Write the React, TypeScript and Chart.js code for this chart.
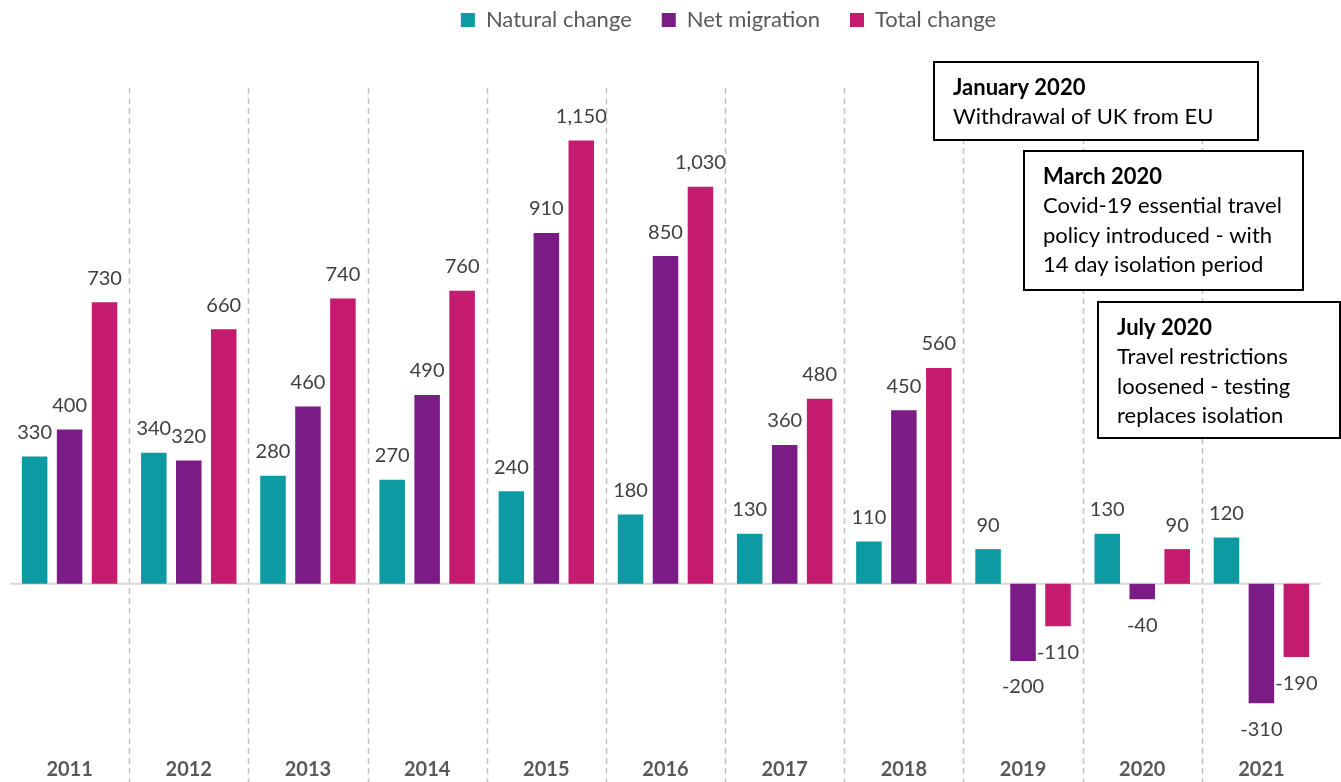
import React, { useEffect, useRef } from "react";
import { Chart, registerables } from "chart.js";

Chart.register(...registerables);

const years = ["2011", "2012", "2013", "2014", "2015", "2016", "2017", "2018", "2019", "2020", "2021"];
const naturalChange = [330, 340, 280, 270, 240, 180, 130, 110, 90, 130, 120];
const netMigration = [400, 320, 460, 490, 910, 850, 360, 450, -200, -40, -310];
const totalChange = [730, 660, 740, 760, 1150, 1030, 480, 560, -110, 90, -190];

const seriesNames = ["Natural change", "Net migration", "Total change"];
const seriesColors = ["#0E9AA2", "#7B1C86", "#C41B6E"];

const annotations = [
  { title: "January 2020", lines: ["Withdrawal of UK from EU"], box: [934, 62, 1258, 140] },
  {
    title: "March 2020",
    lines: ["Covid-19 essential travel", "policy introduced - with", "14 day isolation period"],
    box: [1024, 151, 1303, 290],
  },
  {
    title: "July 2020",
    lines: ["Travel restrictions", "loosened - testing", "replaces isolation"],
    box: [1098, 302, 1340, 438],
  },
];

const FONT = "Lato, 'Open Sans', sans-serif";

const fmt = (v: number) => v.toLocaleString("en-GB");

const customPlugin = {
  id: "custom",
  beforeInit(chart: any) {
    const lg = chart.legend;
    if (lg && !lg.__patched) {
      const orig = lg.fit;
      lg.fit = function () {
        orig.call(this);
        this.height += 26;
      };
      lg.__patched = true;
    }
  },
  afterLayout(chart: any) {
    const lg = chart.legend;
    if (lg) {
      lg.top -= 21;
      lg.bottom -= 21;
      lg.left += 63;
      lg.right += 63;
    }
  },
  beforeDatasetsDraw(chart: any) {
    const { ctx, chartArea } = chart;
    const xs = chart.scales.x;
    const ys = chart.scales.y;
    ctx.save();
    ctx.strokeStyle = "#c4c4c4";
    ctx.lineWidth = 1.5;
    ctx.setLineDash([6, 4]);
    for (let i = 0; i < years.length - 1; i++) {
      const x = Math.round((xs.getPixelForValue(i) + xs.getPixelForValue(i + 1)) / 2) + 0.5;
      ctx.beginPath();
      ctx.moveTo(x, chartArea.top);
      ctx.lineTo(x, chart.height);
      ctx.stroke();
    }
    ctx.setLineDash([]);
    const y0 = ys.getPixelForValue(0);
    ctx.strokeStyle = "#d9d9d9";
    ctx.lineWidth = 2;
    ctx.beginPath();
    ctx.moveTo(chartArea.left, y0);
    ctx.lineTo(chartArea.right, y0);
    ctx.stroke();
    ctx.restore();
  },
  afterDatasetsDraw(chart: any) {
    const { ctx } = chart;
    ctx.save();
    ctx.font = `20px ${FONT}`;
    ctx.fillStyle = "#404040";
    ctx.textAlign = "center";
    ctx.textBaseline = "middle";
    chart.data.datasets.forEach((ds: any, di: number) => {
      const meta = chart.getDatasetMeta(di);
      meta.data.forEach((el: any, i: number) => {
        const v = ds.data[i];
        const y = v >= 0 ? el.y - 24 : el.y + 26;
        ctx.fillText(fmt(v), el.x, y);
      });
    });
    ctx.restore();
  },
  afterDraw(chart: any) {
    const { ctx } = chart;
    ctx.save();
    annotations.forEach((a) => {
      const [x1, y1, x2, y2] = a.box;
      ctx.fillStyle = "#ffffff";
      ctx.fillRect(x1, y1, x2 - x1, y2 - y1);
      ctx.strokeStyle = "#000000";
      ctx.lineWidth = 2;
      ctx.strokeRect(x1, y1, x2 - x1, y2 - y1);
      ctx.textAlign = "left";
      ctx.textBaseline = "middle";
      ctx.fillStyle = "#000000";
      ctx.font = `bold 22px ${FONT}`;
      ctx.fillText(a.title, x1 + 19, y1 + 26);
      ctx.font = `22px ${FONT}`;
      a.lines.forEach((l, k) => {
        ctx.fillText(l, x1 + 19, y1 + 55 + k * 29.5);
      });
    });
    ctx.restore();
  },
};

export default function App() {
  const ref = useRef<HTMLCanvasElement | null>(null);
  useEffect(() => {
    if (!ref.current) return;
    const data = [naturalChange, netMigration, totalChange];
    const chart = new Chart(ref.current, {
      type: "bar",
      data: {
        labels: years,
        datasets: data.map((d, i) => ({
          label: seriesNames[i],
          data: d,
          backgroundColor: seriesColors[i],
          borderWidth: 0,
          categoryPercentage: 0.88,
          barPercentage: 0.73,
        })),
      },
      options: {
        responsive: false,
        animation: false,
        layout: { padding: { left: 10, right: 20, top: 0, bottom: -8 } },
        plugins: {
          legend: {
            position: "top",
            labels: {
              boxWidth: 14,
              boxHeight: 14,
              padding: 30,
              color: "#595959",
              font: { family: FONT, size: 22 },
            },
          },
          tooltip: { enabled: false },
        },
        scales: {
          x: {
            grid: { display: false, drawTicks: false },
            border: { display: false },
            ticks: {
              color: "#595959",
              padding: 8,
              font: { family: FONT, size: 20, weight: "bold" },
            },
          },
          y: {
            display: false,
            min: -431,
            max: 1286,
          },
        },
      },
      plugins: [customPlugin],
    });
    return () => chart.destroy();
  }, []);
  return (
    <div style={{ position: "fixed", left: 0, top: 0, width: 1341, height: 782, background: "#fff" }}>
      <canvas ref={ref} width={1341} height={782} style={{ display: "block" }} />
    </div>
  );
}
